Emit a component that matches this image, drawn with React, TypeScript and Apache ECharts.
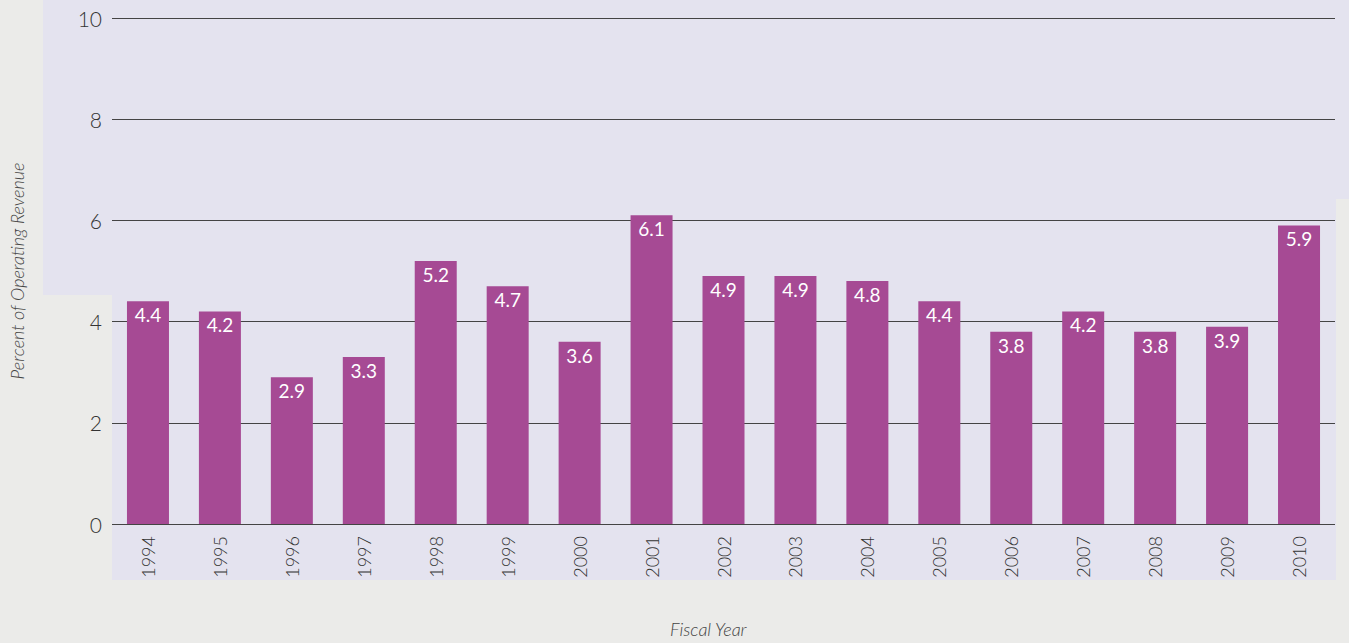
import React, { useEffect, useRef } from "react";
import * as echarts from "echarts";

const years = ["1994","1995","1996","1997","1998","1999","2000","2001","2002","2003","2004","2005","2006","2007","2008","2009","2010"];
const values = [4.4, 4.2, 2.9, 3.3, 5.2, 4.7, 3.6, 6.1, 4.9, 4.9, 4.8, 4.4, 3.8, 4.2, 3.8, 3.9, 5.9];
const yTitle = "Percent of Operating Revenue";
const xTitle = "Fiscal Year";

const FONT = "Lato, 'Open Sans', sans-serif";

export default function App() {
  const ref = useRef<HTMLDivElement>(null);
  useEffect(() => {
    if (!ref.current) return;
    const chart = echarts.init(ref.current, undefined, { renderer: "svg" });
    chart.setOption({
      animation: false,
      backgroundColor: "#ebebe9",
      graphic: [
        {
          type: "polygon",
          z: -10,
          silent: true,
          shape: {
            points: [[43, 0], [1349, 0], [1349, 199], [1336, 199], [1336, 580], [112, 580], [112, 295], [43, 295]],
          },
          style: { fill: "#e4e3ef" },
        },
        {
          type: "text", left: 670, top: 620,
          style: { text: xTitle, font: `italic 300 18px ${FONT}`, fill: "#444" },
        },
      ],
      grid: { left: 111, right: 14, top: 18, bottom: 119, containLabel: false },
      xAxis: {
        type: "category",
        data: years,
        axisLine: { show: false },
        axisTick: { show: false },
        axisLabel: { rotate: 90, margin: 12, fontSize: 18, fontWeight: 300, color: "#333", fontFamily: FONT },
      },
      yAxis: {
        type: "value",
        min: 0, max: 10, interval: 2,
        name: yTitle,
        nameLocation: "middle",
        nameGap: 86,
        nameTextStyle: { fontSize: 18, fontStyle: "italic", fontWeight: 300, color: "#444", fontFamily: FONT },
        axisLine: { show: false },
        axisTick: { show: false },
        axisLabel: { fontSize: 21, fontWeight: 300, color: "#333", margin: 10, fontFamily: FONT },
        splitLine: { lineStyle: { color: "#444", width: 1 } },
      },
      series: [
        {
          type: "bar",
          data: values,
          barWidth: 42,
          itemStyle: { color: "#a64a94" },
          label: {
            show: true,
            position: "insideTop",
            distance: 4,
            color: "#fff",
            fontSize: 19,
            fontFamily: FONT,
            formatter: (p: any) => p.value.toFixed(1),
          },
        },
      ],
    });
    return () => chart.dispose();
  }, []);
  return <div ref={ref} style={{ position: "absolute", left: 0, top: 0, width: 1349, height: 643 }} />;
}
